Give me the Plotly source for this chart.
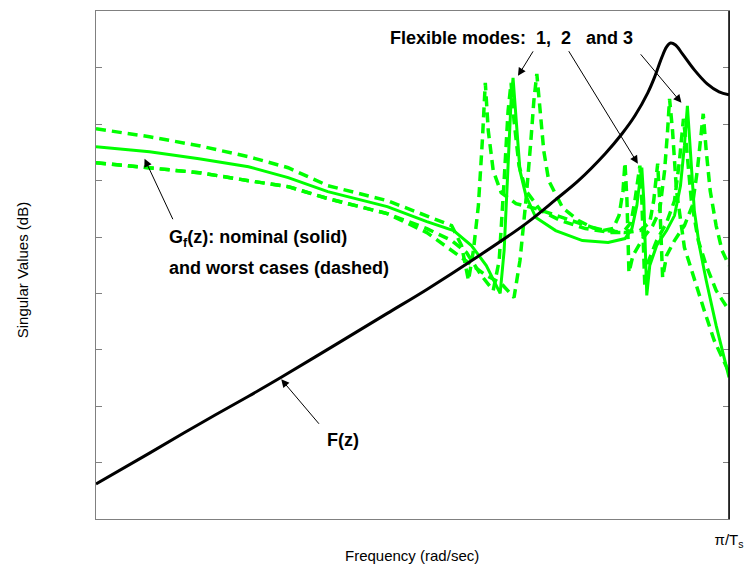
import plotly.graph_objects as go

# Normalised frequency (0 .. pi/Ts at 6.39) and magnitude (arbitrary dB-like units)
f_x = [0, 0.54, 1.04, 1.54, 1.87, 2.44, 2.94, 3.34, 3.84, 4.34, 4.64, 4.87, 5.14, 5.31,
       5.44, 5.57, 5.64, 5.71, 5.76, 5.80, 5.85, 5.92, 6.04, 6.17, 6.29, 6.39]
f_y = [7.0, 13.2, 19.0, 24.6, 28.4, 35.2, 41.2, 46.0, 52.4, 59.2, 64.0, 67.8, 73.2, 77.2,
       80.8, 85.4, 88.6, 92.4, 94.6, 95.4, 95.0, 93.2, 90.0, 87.2, 85.6, 85.0]

nom_x = [0, 0.54, 1.04, 1.54, 1.94, 2.34, 2.94, 3.34, 3.61, 3.79, 3.94, 4.04, 4.08, 4.12,
         4.16, 4.19, 4.21, 4.24, 4.28, 4.34, 4.44, 4.64, 4.91, 5.17, 5.34, 5.41, 5.46, 5.49,
         5.51, 5.53, 5.56, 5.59, 5.66, 5.76, 5.84, 5.90, 5.94, 5.97, 6.00, 6.04, 6.09, 6.16,
         6.26, 6.39]
nom_y = [74.6, 73.6, 72.2, 70.6, 68.4, 65.6, 62.6, 59.6, 57.8, 54.8, 50.8, 46.8, 45.2, 53.8,
         71.8, 83.8, 88.4, 79.8, 69.8, 64.8, 60.4, 57.8, 55.8, 55.4, 56.2, 58.2, 62.8, 67.8,
         70.4, 63.8, 44.8, 50.8, 54.8, 57.8, 60.8, 66.8, 74.8, 82.8, 73.8, 61.8, 54.8, 47.8,
         38.8, 28.4]

wa_x = [0, 0.54, 1.04, 1.54, 1.94, 2.34, 2.94, 3.34, 3.59, 3.69, 3.76, 3.81, 3.86, 3.90,
        3.93, 3.96, 4.01, 4.09, 4.24, 4.44, 4.64, 4.89, 5.11, 5.22, 5.28, 5.32, 5.34, 5.36,
        5.38, 5.42, 5.52, 5.62, 5.69, 5.74, 5.77, 5.79, 5.82, 5.86, 5.94, 6.04, 6.14, 6.24,
        6.39]
wa_y = [78.2, 76.6, 74.8, 72.6, 70.4, 66.8, 63.8, 60.8, 58.8, 54.8, 47.8, 53.8, 62.8, 75.8,
        87.4, 77.8, 69.8, 65.4, 63.2, 62.2, 60.8, 59.2, 57.8, 58.2, 60.8, 65.8, 71.4, 63.8,
        49.4, 52.8, 56.2, 58.8, 61.8, 69.8, 77.8, 84.2, 77.8, 65.8, 54.4, 47.8, 41.8, 35.8,
        29.4]

wb_x = [0, 0.54, 1.04, 1.54, 1.94, 2.34, 2.94, 3.34, 3.62, 3.79, 3.94, 4.09, 4.16, 4.22,
        4.28, 4.34, 4.39, 4.42, 4.45, 4.48, 4.52, 4.57, 4.71, 4.87, 5.01, 5.14, 5.34, 5.49,
        5.59, 5.63, 5.65, 5.67, 5.69, 5.72, 5.76, 5.84, 5.94, 6.02, 6.07, 6.10, 6.13, 6.16,
        6.20, 6.26, 6.32, 6.39]
wb_y = [71.4, 70.4, 69.4, 67.8, 66.6, 64.2, 61.2, 57.4, 53.4, 50.8, 48.8, 47.2, 45.8, 44.4,
        51.8, 63.8, 75.8, 83.8, 89.2, 81.8, 73.8, 67.8, 62.4, 59.8, 58.4, 57.8, 57.4, 57.8,
        59.4, 63.8, 67.8, 71.2, 63.8, 48.4, 52.8, 55.8, 58.8, 62.8, 69.8, 75.8, 81.2, 73.8,
        65.8, 58.8, 53.8, 50.8]

wc_x = [0, 0.54, 1.04, 1.54, 1.94, 2.34, 2.94, 3.34, 3.59, 3.74, 3.89, 4.01, 4.07, 4.12,
        4.16, 4.19, 4.22, 4.27, 4.34, 4.49, 4.69, 4.94, 5.19, 5.32, 5.40, 5.44, 5.47, 5.49,
        5.51, 5.54, 5.58, 5.66, 5.76, 5.84, 5.89, 5.93, 5.96, 6.01, 6.08, 6.16, 6.26, 6.39]
wc_y = [71.4, 70.4, 69.4, 67.8, 66.6, 64.2, 61.2, 58.2, 55.8, 53.4, 48.8, 45.8, 51.8, 67.8,
        81.8, 87.4, 79.8, 70.8, 65.8, 61.8, 59.8, 58.2, 57.4, 57.4, 59.4, 63.8, 68.8, 70.8,
        63.8, 46.8, 51.8, 55.8, 59.4, 63.8, 71.8, 80.2, 74.8, 63.8, 55.8, 50.8, 45.8, 41.8]

y_ticks = [11.3, 22.6, 33.9, 45.2, 56.5, 67.8, 79.1, 90.4]
x_max = 6.39
x_tick_text = ["π/T<sub>s</sub>"]

GREEN = "#00ff00"
FONT = "Arial, Liberation Sans, sans-serif"
NB = "\u00a0"

fig = go.Figure()
dash = "10px,6px"
for xs, ys in [(wa_x, wa_y), (wb_x, wb_y), (wc_x, wc_y)]:
    fig.add_trace(go.Scatter(x=xs, y=ys, mode="lines",
                             line=dict(color=GREEN, width=3.5, dash=dash),
                             showlegend=False, hoverinfo="skip"))
fig.add_trace(go.Scatter(x=nom_x, y=nom_y, mode="lines",
                         line=dict(color=GREEN, width=3), showlegend=False))
fig.add_trace(go.Scatter(x=f_x, y=f_y, mode="lines", line_shape="spline",
                         line=dict(color="black", width=3), showlegend=False))

ann = []
def arrow(x, y, ax, ay):
    ann.append(dict(x=x, y=y, xref="x", yref="y", ax=ax, ay=ay, text="",
                    showarrow=True, arrowhead=2, arrowsize=1.6, arrowwidth=1,
                    arrowcolor="black"))

arrow(4.26, 88.8, 16, -26)
arrow(5.47, 71.2, -70, -114)
arrow(5.91, 83.4, -42, -50)
arrow(0.49, 72.2, 29, 62)
arrow(1.87, 28.0, 39, 46)

def label(x, y, text, size=18):
    ann.append(dict(x=x, y=y, xref="x", yref="y", text=f"<b>{text}</b>",
                    showarrow=False, xanchor="left", yanchor="middle",
                    font=dict(family=FONT, size=size, color="black")))

label(2.95, 96.4, f"Flexible modes:{NB}{NB}1,{NB}{NB}2{NB}{NB}{NB}and 3")
label(0.72, 56.2, "G<sub>f</sub>(z): nominal (solid)")
label(0.72, 50.4, "and worst cases (dashed)")
label(2.31, 15.8, "F(z)")

ann.append(dict(x=0.499, y=-0.0727, xref="paper", yref="paper", text="Frequency (rad/sec)",
                showarrow=False, xanchor="center", yanchor="middle",
                font=dict(family=FONT, size=15, color="black")))
ann.append(dict(x=-0.1158, y=0.489, xref="paper", yref="paper", text="Singular Values (dB)",
                showarrow=False, xanchor="center", yanchor="middle", textangle=-90,
                font=dict(family=FONT, size=15, color="black")))

fig.update_layout(
    width=753, height=567,
    margin=dict(l=96, r=18, t=10, b=48),
    plot_bgcolor="white", paper_bgcolor="white",
    annotations=ann,
    xaxis=dict(range=[0, x_max], showgrid=False, zeroline=False,
               showline=True, linecolor="#808080", linewidth=1, mirror=True,
               tickvals=[x_max], ticktext=x_tick_text, ticks="",
               ticklabelstandoff=7,
               tickfont=dict(family=FONT, size=15, color="black")),
    yaxis=dict(range=[0, 101.8], showgrid=False, zeroline=False,
               showline=True, linecolor="#808080", linewidth=1, mirror="allticks",
               tickvals=y_ticks, ticks="inside", ticklen=6, tickcolor="#808080",
               showticklabels=False),
    shapes=[dict(type="line", xref="paper", yref="paper", x0=1, x1=1, y0=0, y1=1,
                 line=dict(color="black", width=1.5))],
)

fig.write_html("out.html")
